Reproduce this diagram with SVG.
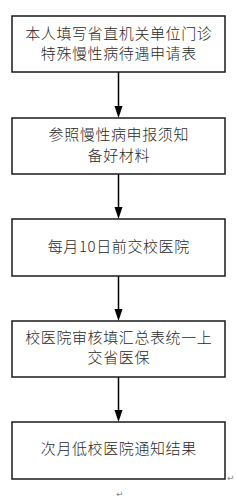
<svg xmlns="http://www.w3.org/2000/svg" width="236" height="498" viewBox="0 0 236 498">
<style>
.box{fill:#fff;stroke:#1a1a1a;stroke-width:1.5}
.t{font-family:"Noto Sans CJK SC","Liberation Serif",serif;font-size:15px;font-weight:300;fill:#2a2a2a;text-anchor:middle;letter-spacing:0.6px}
.c{stroke:#000;stroke-width:1.5;fill:none}
.h{fill:#000}
.pm{font-family:"DejaVu Sans",sans-serif;font-size:9px;fill:#888}
</style>
<rect width="236" height="498" fill="#fff"/>
<g id="connectors">
<line class="c" x1="118.5" y1="72" x2="118.5" y2="108"/>
<polygon class="h" points="114.5,106 122.5,106 118.5,118"/>
<line class="c" x1="118.5" y1="174" x2="118.5" y2="209"/>
<polygon class="h" points="114.5,207 122.5,207 118.5,219"/>
<line class="c" x1="118.5" y1="276" x2="118.5" y2="311"/>
<polygon class="h" points="114.5,309 122.5,309 118.5,321"/>
<line class="c" x1="118.5" y1="377" x2="118.5" y2="412"/>
<polygon class="h" points="114.5,410 122.5,410 118.5,422"/>
</g>
<g id="n1">
<rect class="box" x="12" y="16" width="213" height="56"/>
<text class="t" x="118.8" y="38.5">本人填写省直机关单位门诊</text>
<text class="t" x="118.8" y="58.5">特殊慢性病待遇申请表</text>
</g>
<g id="n2">
<rect class="box" x="12" y="118" width="213" height="56"/>
<text class="t" x="118.8" y="140">参照慢性病申报须知</text>
<text class="t" x="118.8" y="160.5">备好材料</text>
</g>
<g id="n3">
<rect class="box" x="12" y="219" width="213" height="57"/>
<text class="t" x="118.8" y="252">每月10日前交校医院</text>
</g>
<g id="n4">
<rect class="box" x="12" y="321" width="213" height="56"/>
<text class="t" x="118.8" y="343">校医院审核填汇总表统一上</text>
<text class="t" x="118.8" y="363">交省医保</text>
</g>
<g id="n5">
<rect class="box" x="12" y="422" width="213" height="57"/>
<text class="t" x="118.8" y="454">次月低校医院通知结果</text>
</g>
<text class="pm" x="227" y="481">↵</text>
<text class="pm" x="116" y="497">↵</text>
</svg>
